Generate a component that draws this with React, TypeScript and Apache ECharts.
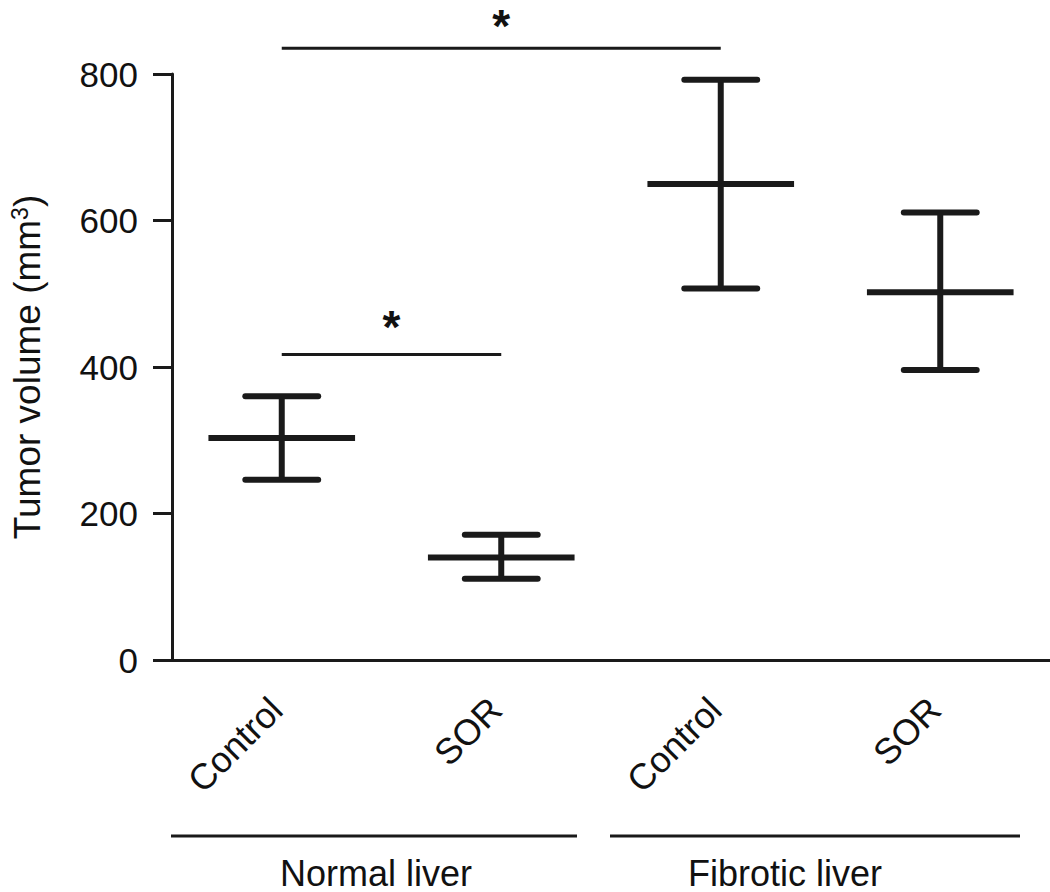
import React, { useEffect, useRef } from "react";
import * as echarts from "echarts";

const categories = ["Control", "SOR", "Control", "SOR"];
const means = [303, 140, 650, 502];
const lowers = [246, 111, 507, 396];
const uppers = [360, 171, 792, 611];
const groupLabels = ["Normal liver", "Fibrotic liver"];
const sigFrom = [0, 0];
const sigTo = [2, 1];
const sigHeight = [835, 417];
const sigLabels = ["*", "*"];
const yTicks = [0, 200, 400, 600, 800];

const INK = "#1a1a1a";
const FONT = "'Liberation Sans', Arial, Helvetica, sans-serif";

export default function App() {
  const ref = useRef<HTMLDivElement>(null);
  useEffect(() => {
    document.body.style.margin = "0";
    const chart = echarts.init(ref.current!, null, { renderer: "svg" });
    const errData = categories.map((_, i) => [i, means[i], lowers[i], uppers[i]]);
    const sigData = sigFrom.map((f, i) => [f, sigHeight[i], sigTo[i], i]);
    chart.setOption({
      animation: false,
      backgroundColor: "#ffffff",
      textStyle: { fontFamily: FONT },
      grid: { left: 171, right: -1, top: 74, bottom: 232, containLabel: false },
      xAxis: {
        type: "category",
        data: categories,
        boundaryGap: true,
        axisLine: { lineStyle: { color: INK, width: 3 } },
        axisTick: { alignWithLabel: true, length: 20, lineStyle: { color: INK, width: 3 } },
        axisLabel: {
          rotate: 45,
          fontSize: 36,
          color: "#111",
          margin: 38,
          padding: [0, 8, 0, 0],
          fontFamily: FONT,
          interval: 0,
        },
        splitLine: { show: false },
      },
      yAxis: {
        type: "value",
        min: yTicks[0],
        max: yTicks[yTicks.length - 1],
        interval: 200,
        name: "Tumor volume (mm{sup|3})",
        nameLocation: "middle",
        nameGap: 126,
        nameTextStyle: {
          fontSize: 37,
          color: "#111",
          fontFamily: FONT,
          rich: { sup: { fontSize: 23, color: "#111", fontFamily: FONT, verticalAlign: "top", padding: [0, 0, 15, 0] } },
        },
        axisLine: { show: true, lineStyle: { color: INK, width: 3 } },
        axisTick: { show: true, length: 19, lineStyle: { color: INK, width: 3 } },
        axisLabel: { fontSize: 35, color: "#111", margin: 34, fontFamily: FONT },
        splitLine: { show: false },
      },
      series: [
        {
          type: "custom",
          data: errData,
          encode: { x: 0, y: 1 },
          renderItem: (params: any, api: any) => {
            const x = api.value(0);
            const pm = api.coord([x, api.value(1)]);
            const pl = api.coord([x, api.value(2)]);
            const ph = api.coord([x, api.value(3)]);
            const bw = api.size([1, 0])[0];
            const mh = bw * 0.334;
            const ch = bw * 0.166;
            const st = { stroke: INK, lineWidth: 6 };
            const cap = { stroke: INK, lineWidth: 6, lineCap: "round" };
            return {
              type: "group",
              children: [
                { type: "line", shape: { x1: pm[0], y1: ph[1], x2: pm[0], y2: pl[1] }, style: st },
                { type: "line", shape: { x1: pm[0] - mh, y1: pm[1], x2: pm[0] + mh, y2: pm[1] }, style: st },
                { type: "line", shape: { x1: pm[0] - ch, y1: ph[1], x2: pm[0] + ch, y2: ph[1] }, style: cap },
                { type: "line", shape: { x1: pm[0] - ch, y1: pl[1], x2: pm[0] + ch, y2: pl[1] }, style: cap },
              ],
            };
          },
          z: 3,
        },
        {
          type: "custom",
          data: sigData,
          encode: { x: 0, y: 1 },
          clip: false,
          renderItem: (params: any, api: any) => {
            const a = api.coord([api.value(0), api.value(1)]);
            const b = api.coord([api.value(2), api.value(1)]);
            const idx = api.value(3);
            return {
              type: "group",
              children: [
                { type: "line", shape: { x1: a[0], y1: a[1], x2: b[0], y2: b[1] }, style: { stroke: INK, lineWidth: 3 } },
                {
                  type: "text",
                  x: (a[0] + b[0]) / 2,
                  y: Math.max(3, a[1] - 51),
                  style: {
                    text: sigLabels[idx],
                    fill: "#111",
                    font: `bold 46px ${FONT}`,
                    align: "center",
                    verticalAlign: "top",
                  },
                },
              ],
            };
          },
          z: 3,
        },
      ],
      graphic: [
        { type: "line", shape: { x1: 171, y1: 836, x2: 577, y2: 836 }, style: { stroke: INK, lineWidth: 3 } },
        { type: "line", shape: { x1: 610, y1: 836, x2: 1020, y2: 836 }, style: { stroke: INK, lineWidth: 3 } },
        {
          type: "text",
          x: 376,
          y: 891,
          style: { text: groupLabels[0], fill: "#111", font: `36px ${FONT}`, align: "center", verticalAlign: "bottom" },
        },
        {
          type: "text",
          x: 785,
          y: 891,
          style: { text: groupLabels[1], fill: "#111", font: `36px ${FONT}`, align: "center", verticalAlign: "bottom" },
        },
      ],
    });
    return () => chart.dispose();
  }, []);
  return <div ref={ref} style={{ width: 1050, height: 892 }} />;
}
